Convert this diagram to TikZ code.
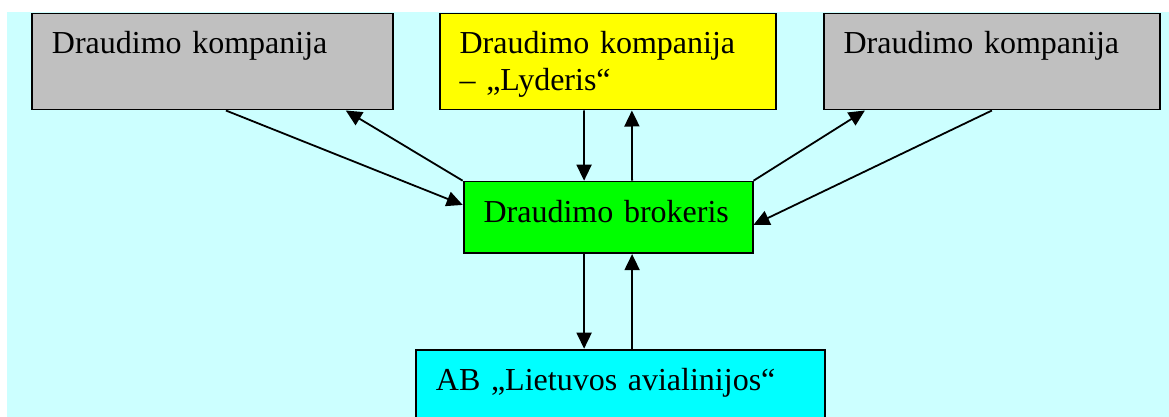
\documentclass[tikz,border=0pt]{standalone}
\usepackage{fontspec}
\setmainfont{Liberation Serif}
\usetikzlibrary{arrows.meta}
\definecolor{fonas}{HTML}{CCFFFF}
\definecolor{pilka}{HTML}{C0C0C0}
\definecolor{geltona}{HTML}{FFFF00}
\definecolor{zalia}{HTML}{00FF00}
\definecolor{zydra}{HTML}{00FFFF}

\begin{document}
\begin{tikzpicture}[x=0.5pt,y=-0.5pt,
firma/.style={draw,line width=0.9pt,anchor=north west,inner xsep=10pt,inner ysep=0pt,align=left,font=\fontsize{16}{18.5}\selectfont},
rodykle/.style={-{Triangle[length=8pt,width=7.5pt]},line width=0.9pt}]
\tikzstyle{every node}=[firma]

\useasboundingbox (0,0) rectangle (1169,417);
\fill[fonas] (7,12) rectangle (1169,417);

\node[fill=pilka,text width=160.5pt,text height=20pt,text depth=28pt] (kompl) at (31,12.7) {Draudimo kompanija};
\node[fill=geltona,text width=148.3pt,text height=20pt,text depth=28pt] (lyderis) at (438.7,12.7) {Draudimo kompanija\\– „Lyderis“};
\node[fill=pilka,text width=148.3pt,text height=20pt,text depth=28pt] (kompr) at (822.7,12.7) {Draudimo kompanija};
\node[fill=zalia,text width=124.5pt,text height=20.5pt,text depth=15.3pt] (brokeris) at (462.7,180.7) {Draudimo brokeris};
\node[fill=zydra,text width=184.5pt,text height=20.6pt,text depth=25pt] (avia) at (415,348.7) {AB „Lietuvos avialinijos“};

\draw[rodykle] ([xshift=6.75pt]kompl.south) -- ([yshift=6.25pt]brokeris.west);
\draw[rodykle] (brokeris.north west) -- ([xshift=66.7pt]kompl.south);
\draw[rodykle] ([xshift=-12pt]lyderis.south) -- ([xshift=-12pt]brokeris.north);
\draw[rodykle] ([xshift=12pt]brokeris.north) -- ([xshift=12pt]lyderis.south);
\draw[rodykle] (brokeris.north east) -- ([xshift=-63.5pt]kompr.south);
\draw[rodykle] (kompr.south) -- ([yshift=-3.75pt]brokeris.east);
\draw[rodykle] ([xshift=-12pt]brokeris.south) -- ([xshift=-12pt]brokeris.south |- avia.north);
\draw[rodykle] ([xshift=12pt]brokeris.south |- avia.north) -- ([xshift=12pt]brokeris.south);
\end{tikzpicture}
\end{document}
